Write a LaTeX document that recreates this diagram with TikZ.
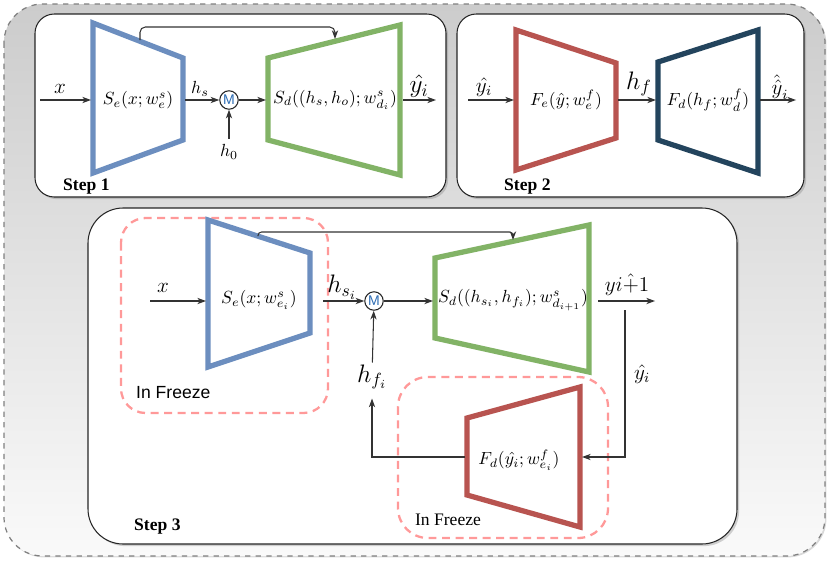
\documentclass[tikz,border=0pt]{standalone}
\usepackage{fontspec}
\newfontfamily\arialfont{Liberation Sans}
\newfontfamily\timesfont{Liberation Serif}
\usetikzlibrary{arrows.meta,shadows}

\definecolor{encblue}{HTML}{6C8EBF}
\definecolor{decgreen}{HTML}{82B366}
\definecolor{fred}{HTML}{B85450}
\definecolor{fnavy}{HTML}{23445D}
\definecolor{freezepink}{HTML}{FF9999}
\definecolor{mblue}{HTML}{2E6DB4}

\begin{document}
\begin{tikzpicture}[x=0.02cm, y=-0.02cm, >={Stealth[length=5pt,width=3.6pt]},
    trap/.style={line width=3pt, line join=miter},
    stepbox/.style={draw=black!85, fill=white, line width=0.6pt,
        drop shadow={shadow xshift=1.2pt, shadow yshift=-1.2pt, opacity=0.35}},
    freeze/.style={draw=freezepink, dash pattern=on 4.5pt off 3.2pt, line width=1.3pt},
    conn/.style={->, draw=black!80, line width=0.6pt},
    mnode/.style={circle, draw=black!85, line width=0.6pt, minimum size=10.5pt,
        inner sep=0pt, font=\arialfont\footnotesize, text=mblue},
    steplabel/.style={anchor=west, font=\timesfont\bfseries},
    lab/.style={inner sep=1pt},
    biglab/.style={inner sep=1pt, font=\large}]

    \useasboundingbox (0,0) rectangle (830,561);

    % outer frame
    \path[top color=black!20, bottom color=black!2, draw=black!50, dashed,
        line width=0.7pt, rounded corners=22pt,
        drop shadow={shadow xshift=0.8pt, shadow yshift=-0.8pt, opacity=0.3}]
        (4,4) rectangle (825,556);

    % step frames
    \draw[stepbox, rounded corners=11pt] (35,14) rectangle (446,197);
    \draw[stepbox, rounded corners=11pt] (457,14) rectangle (804,197);
    \draw[stepbox, rounded corners=20pt] (88,208) rectangle (737,544);

    % Step 1: shape encoder / decoder
    \draw[trap, encblue] (93,23) -- (183,58) -- (183,140) -- (93,173) -- cycle;
    \draw[trap, decgreen] (268,58) -- (400,25) -- (400,175) -- (268,140) -- cycle;
    \node[lab] (se1) at (138,100) {$S_e(x;w_e^s)$};
    \node[lab] (sd1) at (335,100) {$S_d((h_s,h_o);w^s_{d_i})$};
    \coordinate (x1in) at (40,100);
    \coordinate (se1w) at (91,100);
    \coordinate (se1e) at (185,100);
    \coordinate (sd1w) at (266,100);
    \coordinate (sd1e) at (403,100);
    \coordinate (y1out) at (436,100);
    \coordinate (skip1a) at (140,40);
    \coordinate (skip1b) at (335,39);
    \node[biglab] (x1) at (60,89) {$x$};
    \node[lab] (hs1) at (200,89) {$h_s$};
    \node[mnode] (m1) at (229,100) {M};
    \node[lab] (h01) at (229,152) {$h_0$};
    \node[lab, font=\Large] (yh1) at (419,86) {$\hat{y_i}$};
    \draw[conn] (x1in) -- (se1w);
    \draw[conn] (se1e) -- (m1);
    \draw[conn, shorten <=2pt] (h01) -- (m1);
    \draw[conn] (m1) -- (sd1w);
    \draw[conn] (sd1e) -- (y1out);
    \draw[conn, rounded corners=3pt] (skip1a) -- ++(0,-13) -| (skip1b);
    \node[steplabel] (step1) at (57,187) {Step 1};

    % Step 2: label encoder / decoder
    \draw[trap, fred] (516,30) -- (616,63) -- (616,138) -- (516,170) -- cycle;
    \draw[trap, fnavy] (658,62) -- (758,30) -- (758,173) -- (658,140) -- cycle;
    \node[lab] (fe2) at (566,100) {$F_e(\hat{y};w_e^f)$};
    \node[lab] (fd2) at (708,100) {$F_d(h_f;w_d^f)$};
    \coordinate (y2in) at (468,100);
    \coordinate (fe2w) at (514,100);
    \coordinate (fe2e) at (618,100);
    \coordinate (fd2w) at (656,100);
    \coordinate (fd2e) at (760,100);
    \coordinate (y2out) at (796,100);
    \node[biglab] (yh2) at (484,87) {$\hat{y_i}$};
    \node[lab, font=\Large] (hf2) at (639,84) {$h_f$};
    \node[biglab] (yhh2) at (780,87) {$\hat{\hat{y}}_i$};
    \draw[conn] (y2in) -- (fe2w);
    \draw[conn] (fe2e) -- (fd2w);
    \draw[conn] (fd2e) -- (y2out);
    \node[steplabel] (step2) at (498,187) {Step 2};

    % Step 3: joint training
    \draw[freeze, rounded corners=14pt] (121,218) rectangle (328,413);
    \draw[freeze, rounded corners=17pt] (398,377) rectangle (608,538);
    \draw[trap, encblue] (208,220) -- (310,253) -- (310,333) -- (208,367) -- cycle;
    \draw[trap, decgreen] (435,258) -- (589,225) -- (589,372) -- (435,338) -- cycle;
    \draw[trap, fred] (467,418) -- (580,387) -- (580,527) -- (467,495) -- cycle;
    \node[lab] (se3) at (259,300) {$S_e(x;w^s_{e_i})$};
    \node[lab] (sd3) at (513,300) {$S_d((h_{s_i},h_{f_i});w^s_{d_{i+1}})$};
    \node[lab] (fd3) at (519,460) {$F_d(\hat{y_i};w^f_{e_i})$};
    \coordinate (x3in) at (150,301);
    \coordinate (se3w) at (206,301);
    \coordinate (hs3a) at (323,301);
    \coordinate (sd3w) at (433,301);
    \coordinate (y3a) at (598,301);
    \coordinate (y3out) at (655,301);
    \coordinate (yfb) at (625,310);
    \coordinate (fd3e) at (582,457);
    \coordinate (fd3w) at (465,457);
    \coordinate (skip3a) at (258,236);
    \coordinate (skip3b) at (513,240);
    \node[biglab] (x3) at (163,288) {$x$};
    \node[lab, font=\Large] (hs3) at (342,287) {$h_{s_i}$};
    \node[mnode] (m3) at (374,301) {M};
    \node[biglab] (yn3) at (627,285) {$y i\hat{+}1$};
    \node[biglab] (yh3) at (642,374) {$\hat{y_i}$};
    \node[lab, font=\Large] (hf3) at (372,377) {$h_{f_i}$};
    \draw[conn] (x3in) -- (se3w);
    \draw[conn] (hs3a) -- (m3);
    \draw[conn] (m3) -- (sd3w);
    \draw[conn] (y3a) -- (y3out);
    \draw[conn] (yfb) |- (fd3e);
    \draw[conn, shorten >=4pt] (fd3w) -| (hf3.south);
    \draw[conn] (hf3) -- (m3);
    \draw[conn, rounded corners=2pt] (skip3a) -- ++(0,-4) -| (skip3b);
    \node[anchor=west, font=\arialfont] (frz1) at (130,393) {In Freeze};
    \node[font=\timesfont] (frz2) at (448,520) {In Freeze};
    \node[steplabel] (step3) at (128,527) {Step 3};
\end{tikzpicture}
\end{document}
